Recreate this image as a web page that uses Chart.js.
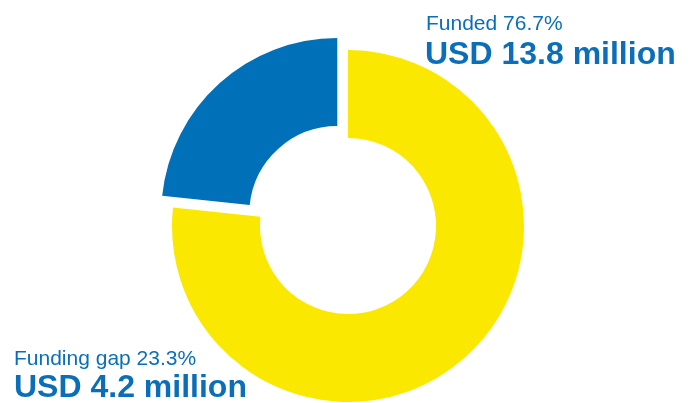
<!DOCTYPE html>
<html>
<head>
<meta charset="utf-8">
<script src="https://cdn.jsdelivr.net/npm/chart.js@4"></script>
<style>
  html, body { margin: 0; padding: 0; background: #ffffff; }
  #wrap { position: relative; width: 692px; height: 403px; overflow: hidden; }
  .lbl { position: absolute; white-space: nowrap; color: #0A6FB8; font-family: "Liberation Sans", Arial, sans-serif; line-height: 1; }
  .small { font-size: 21px; font-weight: normal; }
  .big { font-size: 32px; font-weight: bold; }
</style>
</head>
<body>
<div id="wrap">
  <canvas id="c"></canvas>
  <div class="lbl small" id="t1" style="left:426px; top:12px;"></div>
  <div class="lbl big" id="t2" style="left:425px; top:37px;"></div>
  <div class="lbl small" id="t3" style="left:14px; top:347px;"></div>
  <div class="lbl big" id="t4" style="left:14px; top:370px;"></div>
</div>
<script>
const categories = ["Funded", "Funding gap"];
const valuesUSDm = [13.8, 4.2];
const percentLabels = ["76.7%", "23.3%"];
const amountLabels = ["USD 13.8 million", "USD 4.2 million"];

document.getElementById('t1').textContent = categories[0] + ' ' + percentLabels[0];
document.getElementById('t2').textContent = amountLabels[0];
document.getElementById('t3').textContent = categories[1] + ' ' + percentLabels[1];
document.getElementById('t4').textContent = amountLabels[1];

const canvas = document.getElementById('c');
canvas.style.width = '692px';
canvas.style.height = '403px';

new Chart(canvas, {
  type: 'doughnut',
  data: {
    labels: categories,
    datasets: [{
      data: valuesUSDm,
      backgroundColor: ['#FAE800', '#0070B8'],
      borderWidth: 0,
      offset: [0, 64],
      hoverOffset: 0
    }]
  },
  options: {
    responsive: false,
    animation: false,
    radius: 176,
    cutout: '50%',
    layout: { padding: { left: 4, right: 0, top: 49, bottom: 0 } },
    plugins: {
      legend: { display: false },
      tooltip: { enabled: false }
    },
    events: []
  }
});
</script>
</body>
</html>
